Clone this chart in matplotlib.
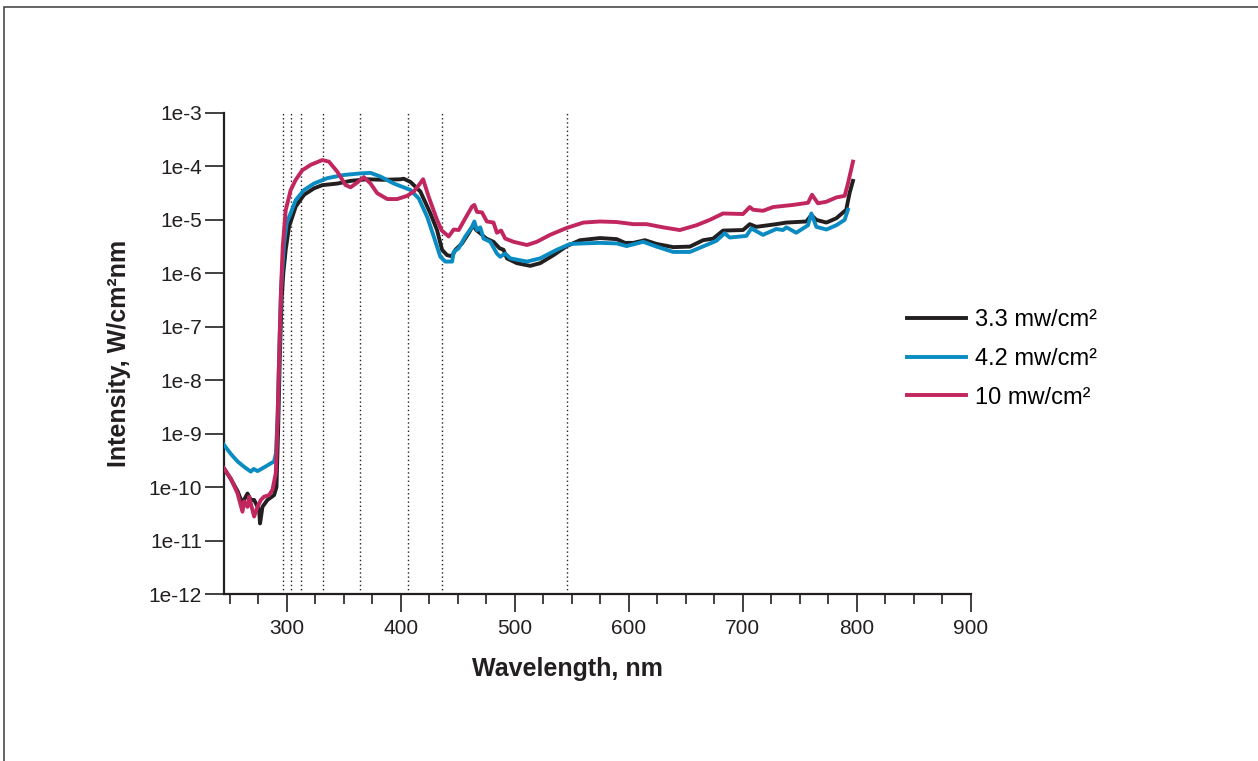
import numpy as np
import matplotlib
matplotlib.use("Agg")
import matplotlib.pyplot as plt
from matplotlib.patches import Rectangle
from matplotlib.ticker import FixedLocator, MultipleLocator, NullLocator

plt.rcParams['font.family'] = ['Liberation Sans', 'DejaVu Sans']

# log10 of intensity (W/cm2 nm)
black_nm = [245, 251, 257, 261, 265.6, 268.5, 271.4, 274, 275.8, 276.6, 278.7, 283.1, 288.9, 291,
            292.5, 294, 295.5, 297, 299.1, 302, 307.9, 315.2, 323.9, 331.2, 344.4, 356, 370.6, 385,
            399.7, 402.6, 408.5, 417.2, 426, 431.8, 436.2, 440.6, 445, 447.9, 453.7, 459.5, 463.4,
            466.2, 469.7, 475, 481.3, 486.6, 490.1, 493.1, 501.8, 513.5, 522.2, 533.9, 545.6, 557.2,
            574.7, 589.3, 596.6, 603.9, 614.1, 624.3, 638.9, 653.5, 665.1, 673.9, 682.6, 700.1, 706,
            711.8, 729.3, 738.1, 755.6, 760, 764.4, 773.2, 781.9, 790.6, 793.5, 796.5]
black_log = [-9.65, -9.85, -10.08, -10.3, -10.12, -10.24, -10.24, -10.35, -10.43, -10.68, -10.37, -10.24,
             -10.15, -10.0, -8.9, -7.5, -6.5, -6.0, -5.56, -5.13, -4.75, -4.53, -4.41, -4.35, -4.32,
             -4.27, -4.24, -4.25, -4.24, -4.23, -4.29, -4.47, -4.88, -5.19, -5.56, -5.66, -5.68, -5.56,
             -5.44, -5.25, -5.10, -5.19, -5.25, -5.35, -5.41, -5.53, -5.56, -5.72, -5.81, -5.86, -5.81,
             -5.66, -5.49, -5.38, -5.34, -5.36, -5.43, -5.43, -5.38, -5.45, -5.51, -5.50, -5.38, -5.35,
             -5.20, -5.19, -5.08, -5.13, -5.08, -5.05, -5.03, -4.91, -5.00, -5.05, -4.97, -4.81, -4.50,
             -4.27]

blue_nm = [245, 251, 256.9, 262.6, 268.5, 271, 274.4, 281, 288.9, 290.6, 292.1, 293.6, 295, 297.6,
           300, 302.4, 307.9, 315.2, 323.9, 335.5, 350, 364.7, 373.5, 382.2, 393.9, 408.5, 415.8,
           423.1, 428.9, 434.7, 439.1, 445, 446.4, 450.8, 456.6, 462.5, 464.5, 466.8, 469.7, 472.6,
           478.5, 484.3, 487.2, 491.6, 496, 510.6, 522.2, 536.8, 548.5, 560.1, 574.7, 589.3, 598,
           612.6, 624.3, 638.9, 653.5, 668, 676.8, 684, 688.5, 703, 707.4, 717.6, 729.3, 735.1, 738.1,
           746.8, 757.1, 760, 764.4, 773.2, 781.9, 789.2, 792.1]
blue_log = [-9.21, -9.38, -9.52, -9.62, -9.71, -9.66, -9.70, -9.62, -9.52, -9.36, -8.62, -7.37, -6.31,
            -5.45, -5.05, -4.93, -4.63, -4.44, -4.32, -4.22, -4.16, -4.13, -4.12, -4.19, -4.32, -4.44,
            -4.60, -4.94, -5.31, -5.69, -5.78, -5.78, -5.60, -5.53, -5.31, -5.13, -5.03, -5.19, -5.14,
            -5.35, -5.41, -5.63, -5.69, -5.63, -5.72, -5.78, -5.72, -5.56, -5.45, -5.44, -5.43, -5.44,
            -5.49, -5.41, -5.50, -5.60, -5.60, -5.47, -5.39, -5.25, -5.33, -5.30, -5.16, -5.28, -5.17,
            -5.19, -5.14, -5.24, -5.10, -4.88, -5.13, -5.18, -5.10, -5.00, -4.81]

red_nm = [245, 251, 256.9, 261.2, 262.6, 265.6, 267, 271.4, 274.4, 277.3, 280.1, 284.5, 287.5, 290.4,
          292, 293.5, 295, 296.5, 299.1, 303.5, 307.9, 313.7, 321, 331.2, 337, 344.4, 351.6, 356,
          361.9, 367.6, 373.5, 379.3, 388.1, 396.9, 405.6, 411.4, 415.8, 419.6, 424.5, 431.8, 436,
          442, 446.4, 450.8, 456.6, 462.5, 464.5, 466.8, 471.2, 475.5, 481.3, 484.3, 488, 491.6,
          498.9, 510.6, 519.3, 530.9, 545.6, 560.1, 574.7, 589.3, 603.9, 615.6, 630.1, 644.7, 659.3,
          670.9, 682.6, 700.1, 706, 708.9, 717.6, 726.4, 743.9, 757.1, 760.6, 765.8, 773.2, 781.9,
          789.2, 792.1, 796.5]
red_log = [-9.65, -9.84, -10.12, -10.46, -10.27, -10.37, -10.18, -10.55, -10.37, -10.24, -10.18, -10.15,
           -10.05, -9.74, -8.7, -7.4, -6.3, -5.5, -4.82, -4.44, -4.25, -4.07, -3.97, -3.88, -3.91,
           -4.10, -4.35, -4.39, -4.30, -4.20, -4.32, -4.50, -4.61, -4.61, -4.55, -4.47, -4.35, -4.24,
           -4.57, -5.00, -5.20, -5.31, -5.18, -5.19, -4.97, -4.75, -4.72, -4.85, -4.86, -5.03, -5.05,
           -5.24, -5.20, -5.35, -5.41, -5.47, -5.41, -5.28, -5.15, -5.05, -5.03, -5.04, -5.08, -5.08,
           -5.14, -5.19, -5.10, -5.00, -4.88, -4.89, -4.76, -4.81, -4.83, -4.76, -4.72, -4.68, -4.53,
           -4.69, -4.66, -4.58, -4.55, -4.32, -3.91]

labels = ['3.3 mw/cm²', '4.2 mw/cm²', '10 mw/cm²']
colors = ['#231f20', '#0a8cc2', '#c1265f']

# dotted verticals (positions as drawn)
hg_lines = [296.5, 303.5, 312.7, 331.5, 364, 406, 436.5, 546]

y_ticks = [1e-3, 1e-4, 1e-5, 1e-6, 1e-7, 1e-8, 1e-9, 1e-10, 1e-11, 1e-12]
y_ticklabels = ['1e-3', '1e-4', '1e-5', '1e-6', '1e-7', '1e-8', '1e-9', '1e-10', '1e-11', '1e-12']

fig = plt.figure(figsize=(12.58, 7.61), dpi=100)
ax = fig.add_axes([224/1258, 1-594/761, 747/1258, 481/761])

ax.vlines(hg_lines, 1e-12, 1e-3, colors='#231f20', linestyles=(0, (1, 2)), lw=1.0, zorder=1)

series = [(black_nm, black_log), (blue_nm, blue_log), (red_nm, red_log)]
for (nm, lg), c, lab in zip(series, colors, labels):
    ax.plot(nm, 10.0 ** np.array(lg), color=c, lw=2.8, label=lab, solid_joinstyle='round', zorder=3)

ax.set_yscale('log')
ax.set_ylim(1e-12, 1e-3)
ax.set_xlim(245, 900)
ax.yaxis.set_major_locator(FixedLocator(y_ticks))
ax.set_yticklabels(y_ticklabels)
ax.yaxis.set_minor_locator(NullLocator())
ax.xaxis.set_major_locator(MultipleLocator(100))
ax.xaxis.set_minor_locator(MultipleLocator(25))

for s in ['top', 'right']:
    ax.spines[s].set_visible(False)
for s in ['left', 'bottom']:
    ax.spines[s].set_linewidth(1.6)
    ax.spines[s].set_color('#231f20')

ax.tick_params(axis='y', which='major', length=14, width=1.2, pad=2, labelsize=15, colors='#231f20')
ax.tick_params(axis='x', which='major', length=13, width=1.2, pad=5, labelsize=15, colors='#231f20')
ax.tick_params(axis='x', which='minor', length=7, width=1.2, colors='#231f20')

ax.set_xlabel('Wavelength, nm', fontsize=18, fontweight='bold', color='#231f20')
ax.set_ylabel('Intensity, W/cm²nm', fontsize=18, fontweight='bold', color='#231f20')
ax.xaxis.set_label_coords(0.46, -0.13)
ax.yaxis.set_label_coords(-0.125, 0.5)

fig.legend(loc='center left', bbox_to_anchor=(907/1258, 1-359/761), frameon=False,
           fontsize=17, handlelength=2.5, handletextpad=0.4, labelspacing=0.7,
           borderpad=0, borderaxespad=0)

fig.patches.append(Rectangle((4/1258, -0.5), 2, 0.5 + 1 - 7/761, transform=fig.transFigure,
                             fill=False, lw=1.2, edgecolor='#4a4a4a'))

fig.savefig('out.png', dpi=100)
